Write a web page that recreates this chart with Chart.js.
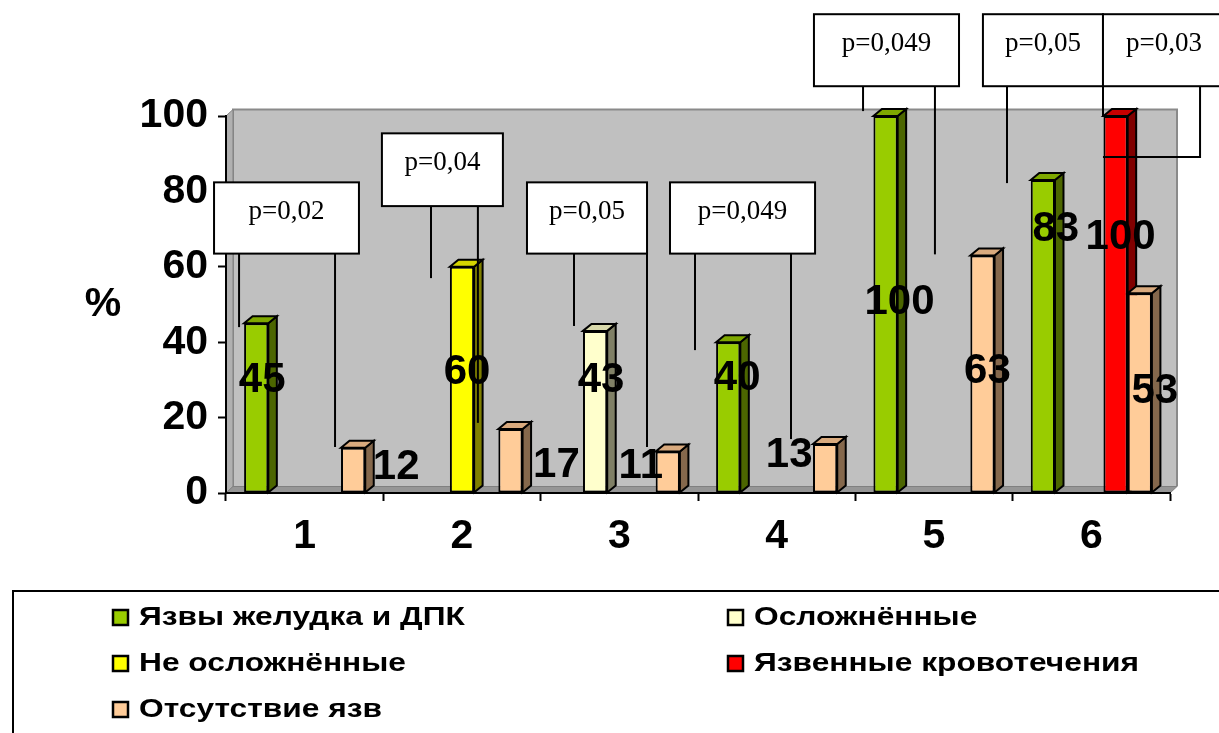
<!DOCTYPE html>
<html lang="ru">
<head>
<meta charset="utf-8">
<title>Частота язв по группам</title>
<script src="https://cdn.jsdelivr.net/npm/chart.js@4.4.1/dist/chart.umd.min.js"></script>
<style>
  html, body { margin: 0; padding: 0; background: #fff; }
  canvas { display: block; }
</style>
</head>
<body>
<canvas id="chart" width="1219" height="733"></canvas>
<script>
// ---- data ----
const categories    = ['1', '2', '3', '4', '5', '6'];
const seriesNames   = ['Язвы желудка и ДПК', 'Осложнённые', 'Не осложнённые', 'Язвенные кровотечения', 'Отсутствие язв'];
const ulcers        = [45, null, null, 40, 100, 83];
const complicated   = [null, null, 43, null, null, null];
const uncomplicated = [null, 60, null, null, null, null];
const bleeding      = [null, null, null, null, null, 100];
const noUlcers      = [12, 17, 11, 13, 63, 53];
const yTicks        = [0, 20, 40, 60, 80, 100];
const axisTitle     = '%';
const pLabels       = ['p=0,02', 'p=0,04', 'p=0,05', 'p=0,049', 'p=0,049', 'p=0,05', 'p=0,03'];

// ---- styling ----
const FONT = '"Liberation Sans", Arial, Helvetica, sans-serif';
const SERIF = '"Liberation Serif", "Times New Roman", serif';
const seriesStyle = [
  { front: '#99CC00', top: '#7FA800', side: '#4C6600' },
  { front: '#FFFFCC', top: '#D8D8AA', side: '#808066' },
  { front: '#FFFF00', top: '#D4D400', side: '#808000' },
  { front: '#FF0000', top: '#C80000', side: '#800000' },
  { front: '#FFCC99', top: '#D9AA7E', side: '#85684C' }
];
// value label nudges in px relative to the top centre of each column
const labelShift = [
  [[6, 57], null, null, [9, 36], [14, 186], [13, 49]],
  [null, null, [6, 50], null, null, null],
  [null, [5, 106], null, null, null, null],
  [null, null, null, null, null, [5, 121]],
  [[43, 20], [46, 37], [-27, 15], [-36, 11], [5, 116], [15, 98]]
];
// callout boxes in axis units: x counted in category steps from group "1", y in percent
const callouts = [
  { x1: -0.576, x2: 0.345, top: 82.4, bottom: 63.5, legs: [[[-0.417, 63.5], [-0.417, 44.0]], [[0.193, 63.5], [0.193, 12.2]]] },
  { x1: 0.491, x2: 1.260, top: 95.4, bottom: 76.1, legs: [[[0.803, 76.1], [0.803, 57.0]], [[1.101, 76.1], [1.101, 18.6]]] },
  { x1: 1.413, x2: 2.176, top: 82.4, bottom: 63.5, legs: [[[1.712, 63.5], [1.712, 44.3]], [[2.176, 63.5], [2.176, 12.2]]] },
  { x1: 2.322, x2: 3.244, top: 82.4, bottom: 63.5, legs: [[[2.481, 63.5], [2.481, 37.9]], [[3.091, 63.5], [3.091, 14.3]]] },
  { x1: 3.237, x2: 4.159, top: 127.0, bottom: 107.9, legs: [[[3.549, 107.9], [3.549, 101.3]], [[4.006, 107.9], [4.006, 63.3]]] },
  { x1: 4.311, x2: 5.074, top: 127.0, bottom: 107.9, legs: [[[4.464, 107.9], [4.464, 82.2]]] },
  { x1: 5.074, x2: 5.850, top: 127.0, bottom: 107.9, legs: [[[5.074, 107.9], [5.074, 100]], [[5.691, 107.9], [5.691, 89.1], [5.074, 89.1]]] }
];

const DX = 8.5, DY = -7;      // column depth
const WDX = 7, WDY = -6.5;    // wall depth

const seriesData = [ulcers, complicated, uncomplicated, bleeding, noUlcers];

function poly(ctx, pts, fill) {
  ctx.beginPath();
  ctx.moveTo(pts[0][0], pts[0][1]);
  for (let k = 1; k < pts.length; k++) ctx.lineTo(pts[k][0], pts[k][1]);
  ctx.closePath();
  ctx.fillStyle = fill;
  ctx.fill();
  ctx.stroke();
}

// grey 3D walls behind the plot
const wallsPlugin = {
  id: 'walls',
  beforeDraw(chart) {
    const { ctx, chartArea: a } = chart;
    ctx.save();
    ctx.fillStyle = '#C0C0C0';
    ctx.fillRect(a.left + WDX, a.top + WDY, a.right - a.left, a.bottom - a.top);
    ctx.strokeStyle = '#8A8A8A';
    ctx.lineWidth = 2;
    ctx.beginPath();
    ctx.moveTo(a.left + WDX, a.bottom + WDY);
    ctx.lineTo(a.left + WDX, a.top + WDY);
    ctx.lineTo(a.right + WDX, a.top + WDY);
    ctx.lineTo(a.right + WDX, a.bottom + WDY);
    ctx.stroke();
    ctx.lineWidth = 1;
    ctx.strokeStyle = '#808080';
    poly(ctx, [[a.left, a.top], [a.left + WDX, a.top + WDY], [a.left + WDX, a.bottom + WDY], [a.left, a.bottom]], '#B0B0B0');
    poly(ctx, [[a.left, a.bottom], [a.left + WDX, a.bottom + WDY], [a.right + WDX, a.bottom + WDY], [a.right, a.bottom]], '#969696');
    ctx.restore();
  }
};

// side and top faces of every column
const depthPlugin = {
  id: 'depth',
  beforeDatasetsDraw(chart) {
    const ctx = chart.ctx;
    ctx.save();
    ctx.strokeStyle = '#000';
    ctx.lineWidth = 2;
    ctx.lineJoin = 'miter';
    chart.data.datasets.forEach((ds, i) => {
      const meta = chart.getDatasetMeta(i);
      meta.data.forEach((bar, j) => {
        if (ds.data[j] == null) return;
        const p = bar.getProps(['x', 'y', 'base', 'width'], true);
        const l = p.x - p.width / 2, r = p.x + p.width / 2;
        poly(ctx, [[r, p.y], [r + DX, p.y + DY], [r + DX, p.base + DY], [r, p.base]], seriesStyle[i].side);
        poly(ctx, [[l, p.y], [l + DX, p.y + DY], [r + DX, p.y + DY], [r, p.y]], seriesStyle[i].top);
      });
    });
    ctx.restore();
  }
};

// p-value callouts and value labels
const notesPlugin = {
  id: 'notes',
  afterDatasetsDraw(chart) {
    const ctx = chart.ctx;
    const xs = chart.scales.x, ys = chart.scales.y;
    const x0 = xs.getPixelForValue(0), step = xs.getPixelForValue(1) - x0;
    const px = u => x0 + u * step;
    const py = v => ys.getPixelForValue(v);
    ctx.save();
    ctx.lineWidth = 2;
    ctx.strokeStyle = '#000';
    callouts.forEach((c, k) => {
      c.legs.forEach(leg => {
        ctx.beginPath();
        leg.forEach((pt, n) => {
          const X = px(pt[0]), Y = py(pt[1]);
          if (n === 0) ctx.moveTo(X, Y); else ctx.lineTo(X, Y);
        });
        ctx.stroke();
      });
      const bx = px(c.x1), bw = px(c.x2) - bx, by = py(c.top), bh = py(c.bottom) - by;
      ctx.fillStyle = '#fff';
      ctx.fillRect(bx, by, bw, bh);
      ctx.strokeRect(bx, by, bw, bh);
      ctx.fillStyle = '#000';
      ctx.font = '27px ' + SERIF;
      ctx.textAlign = 'center';
      ctx.textBaseline = 'alphabetic';
      ctx.fillText(pLabels[k], bx + bw / 2, by + 37);
    });

    ctx.font = 'bold 42px ' + FONT;
    ctx.textAlign = 'center';
    ctx.textBaseline = 'middle';
    ctx.fillStyle = '#000';
    chart.data.datasets.forEach((ds, i) => {
      const meta = chart.getDatasetMeta(i);
      meta.data.forEach((bar, j) => {
        const v = ds.data[j];
        if (v == null) return;
        const s = labelShift[i][j] || [0, 0];
        ctx.fillText(String(v), bar.x + s[0], bar.y + s[1]);
      });
    });
    ctx.restore();
  }
};

// framed legend below the chart and the axis title
const legendPlugin = {
  id: 'framedLegend',
  afterDraw(chart) {
    const ctx = chart.ctx;
    ctx.save();
    ctx.fillStyle = '#000';
    ctx.font = 'bold 41px ' + FONT;
    ctx.textAlign = 'center';
    ctx.textBaseline = 'middle';
    ctx.fillText(axisTitle, 103, 305);

    ctx.lineWidth = 2;
    ctx.strokeStyle = '#000';
    ctx.strokeRect(13, 591, 1230, 170);
    const cols = [113, 728], rows = [618, 664, 710];
    chart.data.datasets.forEach((ds, i) => {
      const sx = cols[i % 2], sy = rows[Math.floor(i / 2)];
      ctx.fillStyle = ds.backgroundColor;
      ctx.fillRect(sx, sy - 8, 15, 15);
      ctx.lineWidth = 2.5;
      ctx.strokeRect(sx, sy - 8, 15, 15);
      ctx.save();
      ctx.translate(sx + 26, sy);
      ctx.scale(1.22, 1);
      ctx.font = 'bold 26px ' + FONT;
      ctx.textAlign = 'left';
      ctx.textBaseline = 'middle';
      ctx.fillStyle = '#000';
      ctx.fillText(ds.label, 0, 0);
      ctx.restore();
    });
    ctx.restore();
  }
};

new Chart(document.getElementById('chart'), {
  type: 'bar',
  data: {
    labels: categories,
    datasets: seriesData.map((d, i) => ({
      label: seriesNames[i],
      data: d,
      backgroundColor: seriesStyle[i].front,
      borderColor: '#000',
      borderWidth: 2,
      borderSkipped: false,
      categoryPercentage: 0.77,
      barPercentage: 1.0
    }))
  },
  options: {
    responsive: false,
    animation: false,
    devicePixelRatio: 1,
    layout: { padding: { top: 116, right: 49, left: 0, bottom: 0 } },
    plugins: {
      legend: { display: false },
      tooltip: { enabled: false }
    },
    scales: {
      x: {
        grid: { display: true, offset: true, drawOnChartArea: false, drawTicks: true, tickLength: 8, tickColor: '#000', tickWidth: 2 },
        border: { display: true, color: '#000', width: 2 },
        ticks: { color: '#000', font: { family: FONT, size: 41, weight: 'bold' }, padding: 11, maxRotation: 0, autoSkip: false },
        afterFit: s => { s.height = 240; }
      },
      y: {
        min: 0,
        max: 100,
        afterBuildTicks: s => { s.ticks = yTicks.map(v => ({ value: v })); },
        grid: { display: true, drawOnChartArea: false, drawTicks: true, tickLength: 8, tickColor: '#000', tickWidth: 2 },
        border: { display: true, color: '#000', width: 2 },
        ticks: { color: '#000', font: { family: FONT, size: 41, weight: 'bold' }, padding: 10 },
        afterFit: s => { s.width = 226; }
      }
    }
  },
  plugins: [wallsPlugin, depthPlugin, notesPlugin, legendPlugin]
});
</script>
</body>
</html>
